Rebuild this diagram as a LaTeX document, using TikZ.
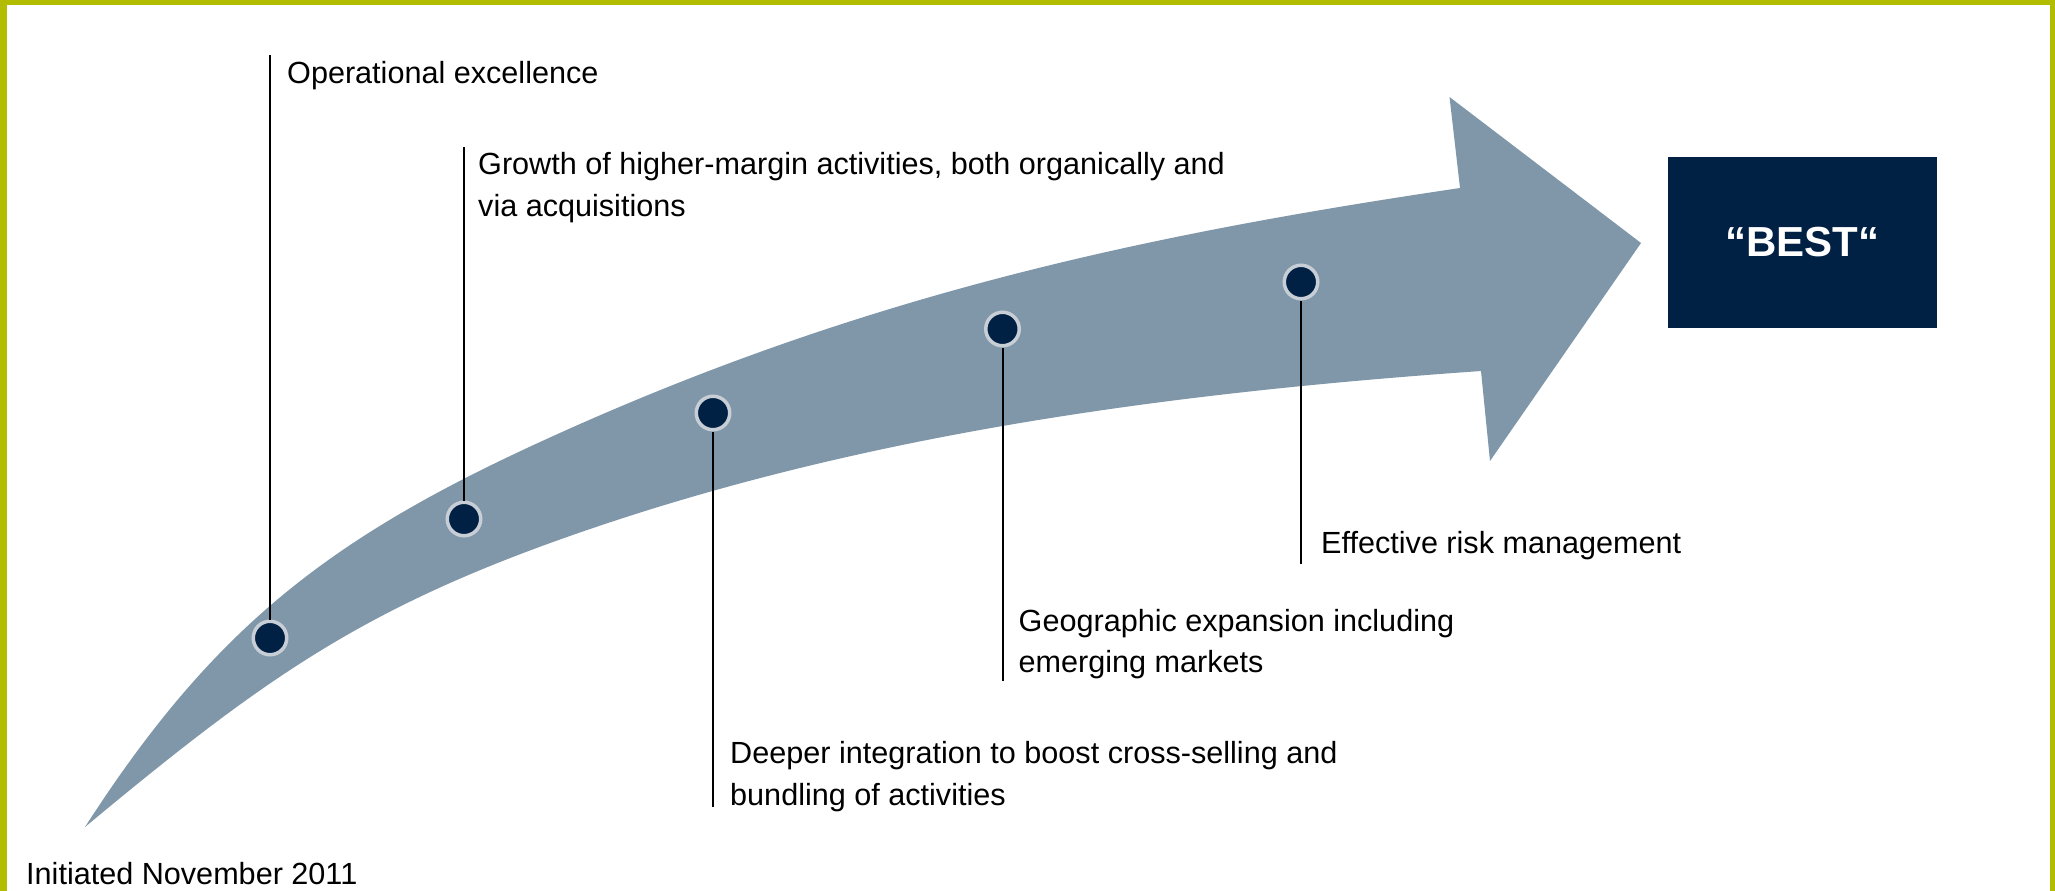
\documentclass[tikz,border=0pt]{standalone}
\usepackage{fontspec}
\setmainfont{Liberation Sans}
\definecolor{frameg}{RGB}{178,188,0}
\definecolor{arrowc}{RGB}{128,151,170}
\definecolor{navy}{RGB}{0,32,68}
\definecolor{ringc}{RGB}{200,206,214}
\tikzset{
  dot/.style={circle, fill=navy, draw=ringc, line width=3.5pt, minimum size=33.5pt, inner sep=0pt},
  lbl/.style={anchor=base west, inner sep=0pt, font=\fontsize{30.6}{40}\selectfont, text=black},
  pin/.style={draw=black, line width=2pt},
  bestbox/.style={rectangle, fill=navy, text=white, minimum width=269pt, minimum height=171pt, inner sep=0pt, font=\fontsize{42}{50}\selectfont\bfseries}
}
\begin{document}
\begin{tikzpicture}[x=1pt,y=-1pt]
\useasboundingbox (0,0) rectangle (2055,891);
% frame
\fill[frameg] (0,0) rectangle (2055,5);
\fill[frameg] (0,0) rectangle (7,891);
\fill[frameg] (2050,0) rectangle (2055,891);
% arrow
\fill[arrowc] (85,827) .. controls (215,625) and (332.4,536) .. (551,437)
  .. controls (870,292) and (1153,233.6) .. (1460,188)
  -- (1449.5,97) -- (1641,243) -- (1490,461) -- (1481,371)
  .. controls (1182,392) and (880,431) .. (596,527)
  .. controls (368.7,603.8) and (269.8,673.4) .. (85,827) -- cycle;
% dots
\node[dot] (d1) at (270,638) {};
\node[dot] (d2) at (464,519) {};
\node[dot] (d3) at (713,413) {};
\node[dot] (d4) at (1002.5,329) {};
\node[dot] (d5) at (1301,282) {};
% line ends
\coordinate (t1) at (270,55);
\coordinate (t2) at (464,147);
\coordinate (t3) at (713,807);
\coordinate (t4) at (1002.5,681);
\coordinate (t5) at (1301,564);
\draw[pin] (t1) -- (d1.north);
\draw[pin] (t2) -- (d2.north);
\draw[pin] (t3) -- (d3.south);
\draw[pin] (t4) -- (d4.south);
\draw[pin] (t5) -- (d5.south);
% labels
\node[lbl] (l1) at (287,84) {Operational excellence};
\node[lbl] (l2a) at (478,174.5) {Growth of higher-margin activities, both organically and};
\node[lbl] (l2b) at (478,216.5) {via acquisitions};
\node[lbl] (l3a) at (730,763.5) {Deeper integration to boost cross-selling and};
\node[lbl] (l3b) at (730,805) {bundling of activities};
\node[lbl] (l4a) at (1018.5,631) {Geographic expansion including};
\node[lbl] (l4b) at (1018.5,672.5) {emerging markets};
\node[lbl] (l5) at (1321,553.5) {Effective risk management};
\node[lbl] (l0) at (26,884) {Initiated November 2011};
% goal box
\node[bestbox] (best) at (1802.5,242.5) {“BEST“};
\end{tikzpicture}
\end{document}
